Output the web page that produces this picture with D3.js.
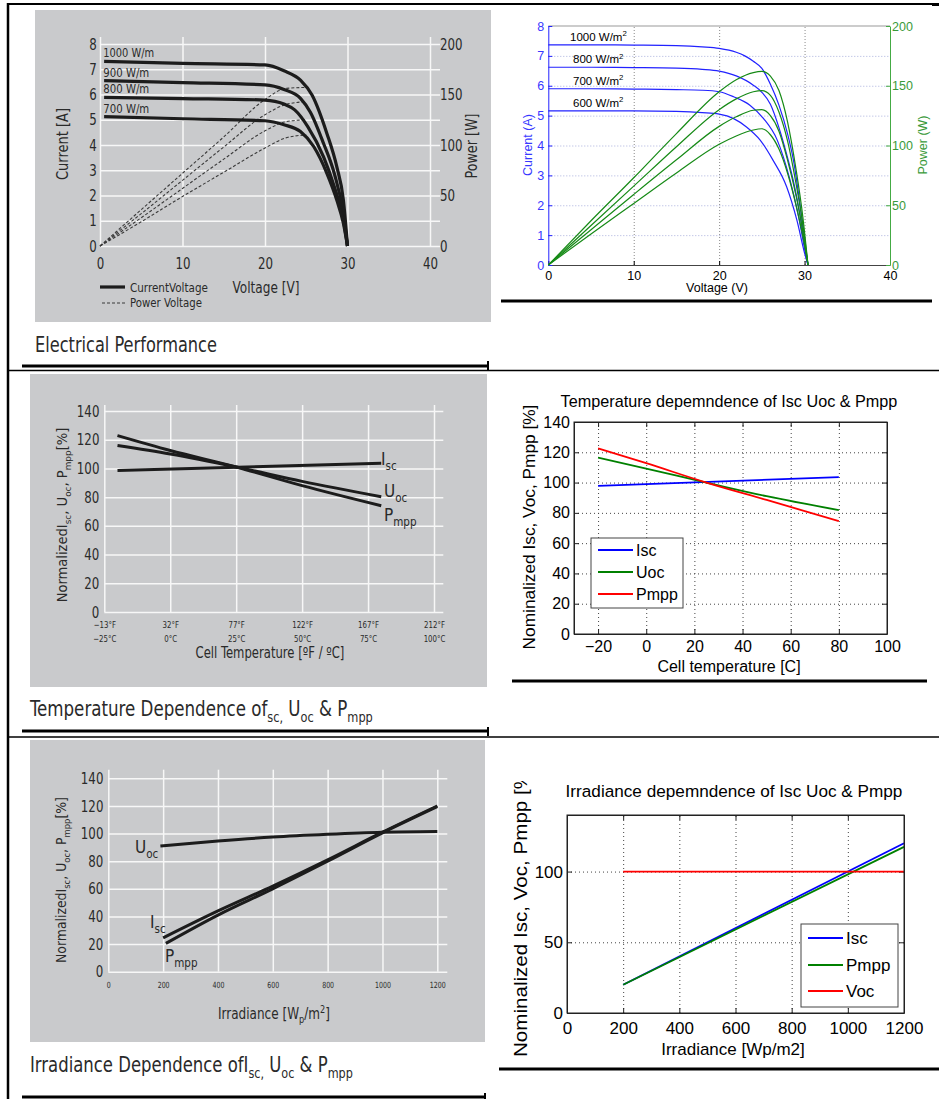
<!doctype html>
<html>
<head>
<meta charset="utf-8">
<title>PV module characteristics</title>
<script src="https://cdnjs.cloudflare.com/ajax/libs/d3/7.8.5/d3.min.js"></script>
<style>
  body { margin: 0; background: #fff; }
  svg { display: block; }
  .sheet text { font-family: "Liberation Sans Narrow", "DejaVu Sans Condensed", Lato, sans-serif; fill: #2a2a2a; }
  .mat text { font-family: "Liberation Sans", Arial, sans-serif; fill: #000; }
</style>
</head>
<body>
<div id="chart"></div>
<script>
// ---------- data ----------
// datasheet I-V / P-V (top left)
const tlLabels = ['1000 W/m', '900 W/m', '800 W/m', '700 W/m'];
const tlI1000 = [[0.5,7.31],[10,7.23],[20,7.17],[22.3,6.94],[24.3,6.57],[25.7,5.98],[27.5,4.46],[28.7,3.14],[29.5,1.82],[30,0]];
const tlI900  = [[0.5,6.55],[10,6.47],[20,6.38],[22.3,6.2],[24.3,5.85],[25.5,5.3],[27.1,4.06],[28.4,2.87],[29.5,1.29],[30,0]];
const tlI800  = [[0.5,5.89],[10,5.84],[20,5.78],[22.3,5.62],[23.6,5.39],[25.2,4.72],[27.1,3.53],[28.4,2.35],[29.5,1.03],[30,0]];
const tlI700  = [[0.5,5.12],[10,5.04],[20,4.96],[22.3,4.8],[24.3,4.53],[25.9,3.94],[27.5,2.88],[28.7,1.82],[29.5,0.9],[30,0]];
const tlP1000 = [[0,0],[5,36],[10,72],[15,108],[20,145],[22.5,156],[25,157]];
const tlP900  = [[0,0],[5,32],[10,65],[15,98],[20,130],[22.5,140],[25,143]];
const tlP800  = [[0,0],[5,28],[10,57],[15,86],[20,114],[22.5,123],[25,125]];
const tlP700  = [[0,0],[5,24],[10,49],[15,73],[20,97],[22.5,107],[25,110]];

// simulated I-V / P-V (top right)
const trLabels = ['1000 W/m', '800 W/m', '700 W/m', '600 W/m'];
const trI1000 = [[0,7.37],[5,7.37],[10,7.36],[15,7.34],[18,7.3],[20,7.25],[22,7.12],[23,7.0],[24,6.82],[25,6.58],[26,6.05],[27,5.35],[28,4.4],[28.7,3.5],[29.5,1.95],[30.1,0.6],[30.4,0]];
const trI800  = [[0,6.62],[5,6.62],[10,6.61],[15,6.59],[18,6.55],[20,6.49],[22,6.33],[24,6.02],[25,5.78],[26,5.38],[27,4.6],[28,3.6],[28.7,2.8],[29.5,1.62],[30.1,0.5],[30.4,0]];
const trI700  = [[0,5.9],[5,5.9],[10,5.89],[15,5.87],[18,5.85],[20,5.8],[21.7,5.63],[23.6,5.35],[25.2,4.9],[26.8,4.18],[28.3,2.84],[29.3,1.62],[30.1,0.4],[30.4,0]];
const trI600  = [[0,5.16],[5,5.16],[10,5.16],[15,5.14],[18,5.1],[20,5.05],[21.7,4.9],[23.2,4.62],[24.8,4.18],[26.3,3.51],[27.9,2.62],[29.1,1.5],[30,0.4],[30.4,0]];
const trP1000 = [[0,0],[5,37],[10,73],[15,110],[20,145],[22,155],[24,161],[25,162],[26,158],[27,146],[28,120],[29,80],[29.8,40],[30.4,0]];
const trP800  = [[0,0],[5,33],[10,66],[15,99],[20,130],[22,139],[24,145],[25,146],[26,142],[27,128],[28,104],[29,68],[29.8,34],[30.4,0]];
const trP700  = [[0,0],[5,29.5],[10,59],[15,88],[20,116],[22,124],[24,129.5],[25,130],[26,125],[27,112],[28,88],[29,58],[29.8,28],[30.4,0]];
const trP600  = [[0,0],[5,26],[10,51.5],[15,77],[20,101],[22,108],[24,113],[25,114],[26,109],[27,97],[28,77],[29,50],[29.8,24],[30.4,0]];

// temperature dependence
const mlIsc  = [[-20,98.5],[80,103.6]];
const mlUoc  = [[-20,115.9],[0,110],[25,101],[50,91],[80,80.3]];
const mlPmpp = [[-20,122.9],[0,112.5],[25,101],[50,88],[80,74]];
const mrIsc  = [[-20,97.8],[80,103.6]];
const mrUoc  = [[-20,116.4],[0,109.2],[25,100],[50,91],[80,81.8]];
const mrPmpp = [[-20,122.6],[0,112.8],[25,100],[50,88.5],[80,74.6]];

// irradiance dependence
const blUoc  = [[190,91],[400,94.6],[600,97.5],[800,99.5],[1000,101],[1200,101.5]];
const blIsc  = [[200,24.5],[400,44],[600,62],[800,81],[1000,101],[1200,120]];
const blPmpp = [[210,20.5],[400,41],[600,60],[800,80],[1000,100.5],[1200,119.5]];
const brIsc  = [[200,20],[1200,120]];
const brPmpp = [[200,20],[1200,117.5]];
const brVoc  = [[200,100],[1200,100]];

// ticks
const voltTicks = [0, 10, 20, 30, 40];
const currentTicks = [0, 1, 2, 3, 4, 5, 6, 7, 8];
const powerTicks = [0, 50, 100, 150, 200];
const pctTicks = [0, 20, 40, 60, 80, 100, 120, 140];
const tempTicksC = [-25, 0, 25, 50, 75, 100];
const tempLabelsF = ['\u221213\u00b0F', '32\u00b0F', '77\u00b0F', '122\u00b0F', '167\u00b0F', '212\u00b0F'];
const tempLabelsC = ['\u221225\u00b0C', '0\u00b0C', '25\u00b0C', '50\u00b0C', '75\u00b0C', '100\u00b0C'];
const mrTempTicks = [-20, 0, 20, 40, 60, 80, 100];
const irrTicks = [0, 200, 400, 600, 800, 1000, 1200];
const brPctTicks = [0, 50, 100];

const GRAY = '#c9cacc', GRID = '#f7f7f7';
const plain = d3.format('d');

const svg = d3.select('#chart').append('svg').attr('width', 939).attr('height', 1099);

// text with sub/superscript parts: [[str, 'sub'|'sup'|undefined], ...]
function rich(g, x, y, parts, size, anchor) {
  const t = g.append('text').attr('x', x).attr('y', y)
    .attr('text-anchor', anchor || 'start').style('font-size', size + 'px');
  let shift = 0;
  parts.forEach(p => {
    const want = p[1] === 'sub' ? size * 0.28 : p[1] === 'sup' ? -size * 0.4 : 0;
    t.append('tspan').attr('dy', want - shift)
      .style('font-size', (p[1] ? size * 0.68 : size) + 'px').text(p[0]);
    shift = want;
  });
  return t;
}
// squeeze/stretch a text to a measured width
function fit(t, width) {
  const w = t.node().getComputedTextLength();
  const x = +t.attr('x') || 0;
  t.attr('transform', `translate(${x},0) scale(${width / w},1) translate(${-x},0)`);
  return t;
}
// datasheet look: white grid on grey, condensed labels
function cleanSheet(a, size) {
  a.attr('font-family', null).attr('font-size', null);
  a.select('.domain').remove();
  a.selectAll('line').attr('stroke', GRID).attr('stroke-width', 1.5);
  a.selectAll('text').style('font-size', size + 'px').attr('transform', 'scale(0.82,1)');
}

// ================= top left: datasheet electrical performance =================
const tl = svg.append('g').attr('class', 'sheet');
tl.append('rect').attr('x', 35).attr('y', 10).attr('width', 456).attr('height', 312).attr('fill', GRAY);
const tlX = d3.scaleLinear().domain([0, 40]).range([100, 430]);
const tlY = d3.scaleLinear().domain([0, 8]).range([246, 44]);
const tlYP = d3.scaleLinear().domain([0, 200]).range([246, 44]);

tl.append('g').attr('transform', 'translate(100,0)')
  .call(d3.axisLeft(tlY).tickValues(currentTicks).tickSize(-340).tickPadding(4))
  .call(a => cleanSheet(a, 16));
tl.append('g').attr('transform', 'translate(0,246)')
  .call(d3.axisBottom(tlX).tickValues(voltTicks).tickSize(-209).tickPadding(12))
  .call(a => cleanSheet(a, 16));
tl.append('g').attr('transform', 'translate(440,0)')
  .call(d3.axisRight(tlYP).tickValues(powerTicks).tickSize(0).tickPadding(0))
  .call(a => cleanSheet(a, 16));

const tlLine = d3.line().x(d => tlX(d[0])).y(d => tlY(d[1])).curve(d3.curveMonotoneX);
const tlPLine = d3.line().x(d => tlX(d[0])).y(d => tlYP(d[1])).curve(d3.curveMonotoneX);
tl.selectAll('path.pv').data([tlP1000, tlP900, tlP800, tlP700]).join('path').attr('class', 'pv')
  .attr('d', tlPLine).attr('fill', 'none').attr('stroke', '#3a3a3a')
  .attr('stroke-width', 1.1).attr('stroke-dasharray', '3,2');
const tlCurves = [tlI1000, tlI900, tlI800, tlI700];
tl.selectAll('path.iv').data(tlCurves).join('path').attr('class', 'iv')
  .attr('d', tlLine).attr('fill', 'none').attr('stroke', '#1c1c1c').attr('stroke-width', 3.2);
tl.selectAll('text.irr').data(tlCurves).join('text').attr('class', 'irr')
  .attr('x', tlX(0.4)).attr('y', d => tlY(d[0][1]) - 4)
  .style('font-size', '13px').text((d, i) => tlLabels[i])
  .each(function (d, i) { fit(d3.select(this), i === 0 ? 51 : 46); });

fit(tl.append('text').attr('x', 266).attr('y', 293).attr('text-anchor', 'middle')
  .style('font-size', '16px').text('Voltage [V]'), 67);
fit(tl.append('g').attr('transform', 'translate(68,144) rotate(-90)').append('text')
  .attr('text-anchor', 'middle').style('font-size', '16px').text('Current [A]'), 72);
fit(tl.append('g').attr('transform', 'translate(477,146) rotate(-90)').append('text')
  .attr('text-anchor', 'middle').style('font-size', '16px').text('Power [W]'), 65);
// legend
tl.append('line').attr('x1', 100).attr('x2', 125).attr('y1', 287).attr('y2', 287)
  .attr('stroke', '#1c1c1c').attr('stroke-width', 3.2);
tl.append('line').attr('x1', 102).attr('x2', 125).attr('y1', 303).attr('y2', 303)
  .attr('stroke', '#3a3a3a').attr('stroke-width', 1.1).attr('stroke-dasharray', '3,2');
fit(tl.append('text').attr('x', 130).attr('y', 292).style('font-size', '13px').text('CurrentVoltage'), 78);
fit(tl.append('text').attr('x', 130).attr('y', 307).style('font-size', '13px').text('Power Voltage'), 72);
fit(tl.append('text').attr('x', 35).attr('y', 352).style('font-size', '21px').text('Electrical Performance'), 182);

// ================= top right: simulated I-V / P-V =================
const tr = svg.append('g').attr('class', 'mat');
const TRB = '#2222ff', TRG = '#168a16';
const trX = d3.scaleLinear().domain([0, 40]).range([548.3, 890]);
const trY = d3.scaleLinear().domain([0, 8]).range([265, 26]);
const trYP = d3.scaleLinear().domain([0, 200]).range([265, 26]);

tr.append('g').attr('transform', 'translate(0,265)')
  .call(d3.axisBottom(trX).tickValues([10, 20, 30]).tickSize(-239).tickFormat(''))
  .call(a => { a.select('.domain').remove(); a.selectAll('line').attr('stroke', '#8a8a8a').attr('stroke-dasharray', '1,2'); });
tr.append('g').attr('transform', 'translate(548.3,0)')
  .call(d3.axisLeft(trY).tickValues(currentTicks.slice(1, 8)).tickSize(-341.7).tickFormat(''))
  .call(a => { a.select('.domain').remove(); a.selectAll('line').attr('stroke', '#aab0dd').attr('stroke-dasharray', '1,2'); });
tr.append('line').attr('x1', 548.3).attr('x2', 890).attr('y1', 26).attr('y2', 26).attr('stroke', '#999');

const trBottom = tr.append('g').attr('transform', 'translate(0,265)')
  .call(d3.axisBottom(trX).tickValues(voltTicks).tickSizeInner(-4).tickSizeOuter(0).tickPadding(6));
trBottom.select('.domain').attr('stroke', '#444');
const trLeft = tr.append('g').attr('transform', 'translate(548.3,0)')
  .call(d3.axisLeft(trY).tickValues(currentTicks).tickSizeInner(-4).tickSizeOuter(0).tickPadding(4));
trLeft.selectAll('.domain, line').attr('stroke', TRB);
trLeft.selectAll('text').style('fill', '#3838ff');
const trRight = tr.append('g').attr('transform', 'translate(890,0)')
  .call(d3.axisRight(trYP).tickValues(powerTicks).tickSizeInner(-4).tickSizeOuter(0).tickPadding(2));
trRight.selectAll('.domain, line').attr('stroke', '#44aa44');
trRight.selectAll('text').style('fill', '#3a9a3a');
[trBottom, trLeft, trRight].forEach(a => {
  a.attr('font-family', null).attr('font-size', null);
  a.selectAll('text').style('font-size', '12.5px');
});

const trLine = d3.line().x(d => trX(d[0])).y(d => trY(d[1])).curve(d3.curveMonotoneX);
const trPLine = d3.line().x(d => trX(d[0])).y(d => trYP(d[1])).curve(d3.curveMonotoneX);
const trCurves = [trI1000, trI800, trI700, trI600];
tr.selectAll('path.iv').data(trCurves).join('path').attr('class', 'iv')
  .attr('d', trLine).attr('fill', 'none').attr('stroke', TRB).attr('stroke-width', 1.2);
tr.selectAll('path.pv').data([trP1000, trP800, trP700, trP600]).join('path').attr('class', 'pv')
  .attr('d', trPLine).attr('fill', 'none').attr('stroke', TRG).attr('stroke-width', 1.2);
trCurves.forEach((d, i) => {
  rich(tr, i === 0 ? 570 : 573, trY(d[0][1]) - 4, [[trLabels[i]], ['2', 'sup']], 11.5);
});
tr.append('text').attr('x', 717).attr('y', 292).attr('text-anchor', 'middle')
  .style('font-size', '12.5px').text('Voltage (V)');
tr.append('g').attr('transform', 'translate(532,145) rotate(-90)').append('text')
  .attr('text-anchor', 'middle').style('font-size', '12.5px').style('fill', '#3838ff').text('Current (A)');
tr.append('g').attr('transform', 'translate(927,145) rotate(-90)').append('text')
  .attr('text-anchor', 'middle').style('font-size', '12.5px').style('fill', '#3a9a3a').text('Power (W)');

// ================= middle left: datasheet temperature dependence =================
const ml = svg.append('g').attr('class', 'sheet');
ml.append('rect').attr('x', 30).attr('y', 374).attr('width', 457).attr('height', 313).attr('fill', GRAY);
const mlX = d3.scaleLinear().domain([-25, 100]).range([104.3, 434]);
const mlY = d3.scaleLinear().domain([0, 140]).range([612, 411]);
ml.append('g').attr('transform', 'translate(104.3,0)')
  .call(d3.axisLeft(mlY).tickValues(pctTicks).tickSize(-339).tickPadding(6))
  .call(a => cleanSheet(a, 16));
const mlXAxis = ml.append('g').attr('transform', 'translate(0,612)')
  .call(d3.axisBottom(mlX).tickValues(tempTicksC).tickSize(-207).tickPadding(9)
    .tickFormat((d, i) => tempLabelsF[i]));
mlXAxis.selectAll('.tick').append('text').attr('y', 23).attr('dy', '0.71em')
  .attr('text-anchor', 'middle').text((d, i) => tempLabelsC[i]);
cleanSheet(mlXAxis, 9.5);

const mlLine = d3.line().x(d => mlX(d[0])).y(d => mlY(d[1])).curve(d3.curveMonotoneX);
ml.selectAll('path.s').data([mlIsc, mlUoc, mlPmpp]).join('path').attr('class', 's')
  .attr('d', mlLine).attr('fill', 'none').attr('stroke', '#1c1c1c').attr('stroke-width', 3);
rich(ml, 381, 465, [['I'], ['sc', 'sub']], 17);
rich(ml, 384, 497, [['U'], ['oc', 'sub']], 17);
rich(ml, 384, 521, [['P'], ['mpp', 'sub']], 17);
fit(ml.append('text').attr('x', 270).attr('y', 658).attr('text-anchor', 'middle')
  .style('font-size', '15px').text('Cell Temperature [\u00baF / \u00baC]'), 149);
fit(rich(ml.append('g').attr('transform', 'translate(67,515) rotate(-90)'), 0, 0,
  [['NormalizedI'], ['sc', 'sub'], [', U'], ['oc', 'sub'], [', P'], ['mpp', 'sub'], ['[%]']], 14, 'middle'), 175);
fit(rich(ml, 30, 716, [['Temperature Dependence of'], ['sc,', 'sub'], [' U'], ['oc', 'sub'], [' & P'], ['mpp', 'sub']], 21), 343);

// ================= middle right: simulated temperature dependence =================
function matAxes(g, x, y, xTicks, yTicks, xGrid, yGrid, fs, padX) {
  const [L, R] = x.range(), [B, T] = y.range();
  g.append('rect').attr('x', L).attr('y', T).attr('width', R - L).attr('height', B - T).attr('fill', '#fff');
  g.append('g').attr('transform', `translate(0,${B})`)
    .call(d3.axisBottom(x).tickValues(xGrid).tickSize(-(B - T)).tickFormat(''))
    .call(a => { a.select('.domain').remove(); a.selectAll('line').attr('stroke', '#444').attr('stroke-dasharray', '1,3'); });
  g.append('g').attr('transform', `translate(${L},0)`)
    .call(d3.axisLeft(y).tickValues(yGrid).tickSize(-(R - L)).tickFormat(''))
    .call(a => { a.select('.domain').remove(); a.selectAll('line').attr('stroke', '#444').attr('stroke-dasharray', '1,3'); });
  const axes = [
    g.append('g').attr('transform', `translate(0,${B})`)
      .call(d3.axisBottom(x).tickValues(xTicks).tickFormat(plain).tickSizeInner(-5).tickSizeOuter(0).tickPadding(padX)),
    g.append('g').attr('transform', `translate(${L},0)`)
      .call(d3.axisLeft(y).tickValues(yTicks).tickFormat(plain).tickSizeInner(-5).tickSizeOuter(0).tickPadding(4)),
    g.append('g').attr('transform', `translate(0,${T})`)
      .call(d3.axisTop(x).tickValues(xTicks).tickSizeInner(-5).tickSizeOuter(0).tickFormat('')),
    g.append('g').attr('transform', `translate(${R},0)`)
      .call(d3.axisRight(y).tickValues(yTicks).tickSizeInner(-5).tickSizeOuter(0).tickFormat(''))
  ];
  axes.forEach(a => {
    a.attr('font-family', null).attr('font-size', null);
    a.selectAll('.domain, line').attr('stroke', '#222');
    a.selectAll('text').style('font-size', fs + 'px');
  });
}
function matLegend(g, x0, y0, w, h, rows, names, colors, fs) {
  g.append('rect').attr('x', x0).attr('y', y0).attr('width', w).attr('height', h)
    .attr('fill', '#fff').attr('stroke', '#444');
  names.forEach((n, i) => {
    g.append('line').attr('x1', x0 + 7).attr('x2', x0 + 42).attr('y1', rows[i]).attr('y2', rows[i])
      .attr('stroke', colors[i]).attr('stroke-width', 1.8);
    g.append('text').attr('x', x0 + 45).attr('y', rows[i] + fs * 0.36).style('font-size', fs + 'px').text(n);
  });
}

const mr = svg.append('g').attr('class', 'mat');
const mrX = d3.scaleLinear().domain([-30, 100]).range([574, 887]);
const mrY = d3.scaleLinear().domain([0, 140]).range([634, 422]);
matAxes(mr, mrX, mrY, mrTempTicks, pctTicks, [-20, 0, 20, 40, 60, 80], [20, 40, 60, 80, 100, 120], 16, 7);
const mrLine = d3.line().x(d => mrX(d[0])).y(d => mrY(d[1])).curve(d3.curveMonotoneX);
const matColors = ['#0000ff', '#008000', '#ff0000'];
mr.selectAll('path.s').data([mrIsc, mrUoc, mrPmpp]).join('path').attr('class', 's')
  .attr('d', mrLine).attr('fill', 'none').attr('stroke', (d, i) => matColors[i]).attr('stroke-width', 1.8);
mr.append('rect').attr('x', 574).attr('y', 422).attr('width', 313).attr('height', 212)
  .attr('fill', 'none').attr('stroke', '#222');
matLegend(mr, 591, 538, 92, 70, [550, 572, 594], ['Isc', 'Uoc', 'Pmpp'], matColors, 16);
fit(mr.append('text').attr('x', 729).attr('y', 407).attr('text-anchor', 'middle')
  .style('font-size', '16px').text('Temperature depemndence of Isc Uoc & Pmpp'), 337);
mr.append('text').attr('x', 729).attr('y', 672).attr('text-anchor', 'middle')
  .style('font-size', '16px').text('Cell temperature [C]');
fit(mr.append('g').attr('transform', 'translate(535,527) rotate(-90)').append('text')
  .attr('text-anchor', 'middle').style('font-size', '16px').text('Nominalized Isc, Voc, Pmpp [%]'), 245);

// ================= bottom left: datasheet irradiance dependence =================
const bl = svg.append('g').attr('class', 'sheet');
bl.append('rect').attr('x', 30).attr('y', 740).attr('width', 455).attr('height', 302).attr('fill', GRAY);
const blX = d3.scaleLinear().domain([0, 1200]).range([108.3, 437.3]);
const blY = d3.scaleLinear().domain([0, 140]).range([971.7, 778.3]);
bl.append('g').attr('transform', 'translate(108.3,0)')
  .call(d3.axisLeft(blY).tickValues(pctTicks).tickSize(-339).tickPadding(6))
  .call(a => cleanSheet(a, 16));
bl.append('g').attr('transform', 'translate(0,971.7)')
  .call(d3.axisBottom(blX).tickValues(irrTicks).tickFormat(plain).tickSize(-202).tickPadding(10))
  .call(a => cleanSheet(a, 8.5));
const blLine = d3.line().x(d => blX(d[0])).y(d => blY(d[1])).curve(d3.curveMonotoneX);
bl.selectAll('path.s').data([blUoc, blIsc, blPmpp]).join('path').attr('class', 's')
  .attr('d', blLine).attr('fill', 'none').attr('stroke', '#1c1c1c').attr('stroke-width', 3);
rich(bl, 135, 853, [['U'], ['oc', 'sub']], 17);
rich(bl, 150, 928, [['I'], ['sc', 'sub']], 17);
rich(bl, 165, 962, [['P'], ['mpp', 'sub']], 17);
fit(rich(bl, 274, 1019, [['Irradiance [W'], ['p', 'sub'], ['/m'], ['2', 'sup'], [']']], 15, 'middle'), 112);
fit(rich(bl.append('g').attr('transform', 'translate(66,880) rotate(-90)'), 0, 0,
  [['NormalizedI'], ['sc', 'sub'], [', U'], ['oc', 'sub'], [', P'], ['mpp', 'sub'], ['[%]']], 14, 'middle'), 166);
fit(rich(bl, 30, 1072, [['Irradiance Dependence ofI'], ['sc,', 'sub'], [' U'], ['oc', 'sub'], [' & P'], ['mpp', 'sub']], 21), 323);

// ================= bottom right: simulated irradiance dependence =================
const br = svg.append('g').attr('class', 'mat');
const brX = d3.scaleLinear().domain([0, 1200]).range([567, 904]);
const brY = d3.scaleLinear().domain([0, 140]).range([1013, 815]);
matAxes(br, brX, brY, irrTicks, brPctTicks, [200, 400, 600, 800, 1000], [50, 100], 17, 9);
const brLine = d3.line().x(d => brX(d[0])).y(d => brY(d[1]));
br.selectAll('path.s').data([brIsc, brPmpp, brVoc]).join('path').attr('class', 's')
  .attr('d', brLine).attr('fill', 'none').attr('stroke', (d, i) => matColors[i]).attr('stroke-width', 1.8);
br.append('rect').attr('x', 567).attr('y', 815).attr('width', 337).attr('height', 198)
  .attr('fill', 'none').attr('stroke', '#222');
matLegend(br, 801, 924, 97, 83, [938, 965, 991], ['Isc', 'Pmpp', 'Voc'], matColors, 17);
fit(br.append('text').attr('x', 734).attr('y', 797).attr('text-anchor', 'middle')
  .style('font-size', '17px').text('Irradiance depemndence of Isc Uoc & Pmpp'), 337);
br.append('text').attr('x', 733).attr('y', 1055).attr('text-anchor', 'middle')
  .style('font-size', '17px').text('Irradiance [Wp/m2]');
svg.append('clipPath').attr('id', 'brclip').append('rect')
  .attr('x', 495).attr('y', 781).attr('width', 50).attr('height', 300);
fit(br.append('g').attr('clip-path', 'url(#brclip)')
  .append('g').attr('transform', 'translate(527,1057) rotate(-90)').append('text')
  .attr('text-anchor', 'start').style('font-size', '18px').text('Nominalized Isc, Voc, Pmpp [%]'), 292);

// ================= page frame =================
const frame = svg.append('g').attr('stroke', '#000');
function rule(x1, y1, x2, y2, w) {
  frame.append('line').attr('x1', x1).attr('y1', y1).attr('x2', x2).attr('y2', y2).attr('stroke-width', w);
}
rule(8, 3, 8, 1099, 2.5);
rule(7, 4, 932, 4, 2);
rule(932, 4.5, 939, 4.5, 3);
rule(22, 366, 488, 366, 3); rule(488, 361, 488, 370, 2);
rule(8, 370.5, 939, 370.5, 1.5);
rule(22, 731, 488, 731, 3); rule(488, 727, 488, 736, 2);
rule(8, 737, 939, 737, 1.5);
rule(22, 1097, 485, 1097, 3); rule(485, 1093, 485, 1099, 2);
rule(501, 301, 932, 301, 3);
rule(512, 681, 927, 681, 3);
rule(499, 1069, 939, 1069, 3);
</script>
</body>
</html>
